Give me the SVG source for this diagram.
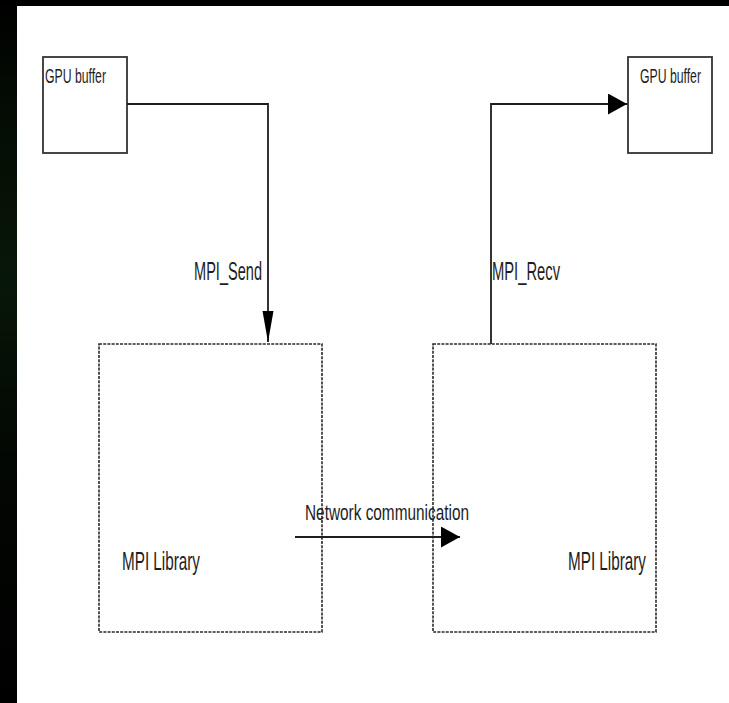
<svg xmlns="http://www.w3.org/2000/svg" width="729" height="703" viewBox="0 0 729 703">
  <style>
    .buf { fill: #ffffff; stroke: #333333; stroke-width: 1.8; }
    .lib { fill: #ffffff; stroke: #2a2a2a; stroke-width: 1.6; stroke-dasharray: 3 1.2; }
    .lbl { font-family: "Liberation Sans", Arial, sans-serif; fill: #1e1e1e; }
    .wire { fill: none; stroke: #1e1e1e; stroke-width: 1.8; }
  </style>
  <defs>
    <linearGradient id="edge" x1="0" y1="0" x2="0" y2="1">
      <stop offset="0" stop-color="#000000"/>
      <stop offset="0.15" stop-color="#040c04"/>
      <stop offset="0.4" stop-color="#071707"/>
      <stop offset="0.65" stop-color="#030703"/>
      <stop offset="1" stop-color="#000000"/>
    </linearGradient>
    <marker id="arrV" markerUnits="userSpaceOnUse" markerWidth="32" markerHeight="12" refX="31" refY="5.5" orient="auto">
      <path d="M0,0 L31,5.5 L0,11 Z" fill="#000000"/>
    </marker>
    <marker id="arrH" markerUnits="userSpaceOnUse" markerWidth="20" markerHeight="22" refX="19" refY="10.5" orient="auto">
      <path d="M0,0 L19,10.5 L0,21 Z" fill="#000000"/>
    </marker>
  </defs>

  <!-- background frame -->
  <rect x="0" y="0" width="729" height="703" fill="#ffffff"/>
  <rect x="0" y="0" width="729" height="6" fill="#000000"/>
  <rect x="0" y="0" width="17" height="703" fill="url(#edge)"/>

  <g id="gpu-buffer-left">
    <rect class="buf" x="43" y="57" width="84" height="96"/>
    <text class="lbl" x="45" y="83" font-size="20" textLength="61" lengthAdjust="spacingAndGlyphs">GPU buffer</text>
  </g>

  <g id="gpu-buffer-right">
    <rect class="buf" x="628" y="57" width="84" height="96"/>
    <text class="lbl" x="640" y="83" font-size="20" textLength="61" lengthAdjust="spacingAndGlyphs">GPU buffer</text>
  </g>

  <g id="mpi-library-left">
    <rect class="lib" x="99" y="344" width="223" height="288"/>
    <text class="lbl" x="122" y="570" font-size="26" textLength="78" lengthAdjust="spacingAndGlyphs">MPI Library</text>
  </g>

  <g id="mpi-library-right">
    <rect class="lib" x="433" y="344" width="223" height="288"/>
    <text class="lbl" x="568" y="570" font-size="26" textLength="78" lengthAdjust="spacingAndGlyphs">MPI Library</text>
  </g>

  <g id="connectors">
    <path class="wire" d="M127,104 L268,104 L268,342" marker-end="url(#arrV)"/>
    <path class="wire" d="M491,344 L491,104 L627,104" marker-end="url(#arrH)"/>
    <path class="wire" d="M295,537 L460,537" marker-end="url(#arrH)"/>
    <text class="lbl" x="194" y="280" font-size="25" textLength="68" lengthAdjust="spacingAndGlyphs">MPI_Send</text>
    <text class="lbl" x="492" y="280" font-size="25" textLength="68" lengthAdjust="spacingAndGlyphs">MPI_Recv</text>
    <text class="lbl" x="305" y="520" font-size="22" textLength="164" lengthAdjust="spacingAndGlyphs">Network communication</text>
  </g>
</svg>
